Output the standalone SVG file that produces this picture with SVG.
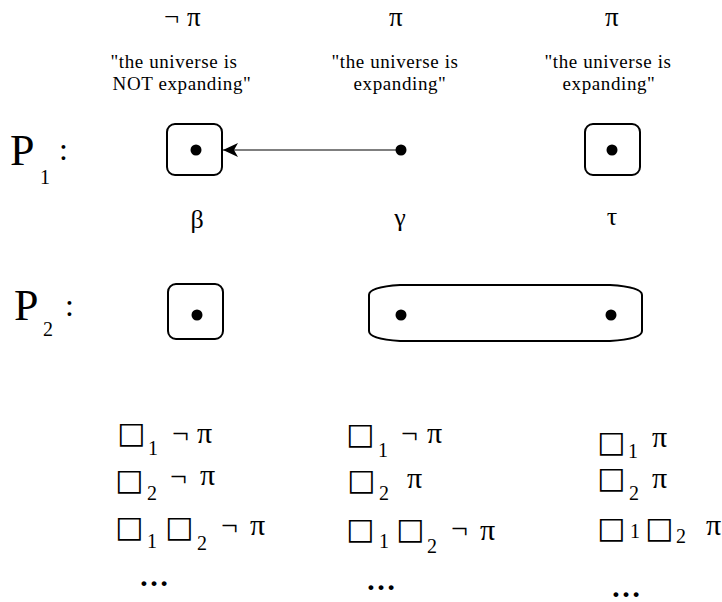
<svg xmlns="http://www.w3.org/2000/svg" width="722" height="602" viewBox="0 0 722 602">
<style>
.t{font-family:"Liberation Serif","DejaVu Serif",serif;fill:#000}
.q{font-size:19px;text-anchor:middle;letter-spacing:0.6px}
.g{font-size:30px}
.h{font-size:27px}
.w{font-size:26px;text-anchor:middle}
.box{fill:none;stroke:#000;stroke-width:2}
.dot{fill:#000}
.sq{font-family:"DejaVu Sans",sans-serif;font-size:30px;fill:#000}
.sub{font-size:20px}
.big{font-size:44px}
.el{font-size:30px;font-weight:bold}
</style>
<defs>
<marker id="ah" markerWidth="16" markerHeight="14" refX="15" refY="7" orient="auto" markerUnits="userSpaceOnUse">
<path d="M15,7 L0,0 L4,7 L0,14 Z" fill="#000"/>
</marker>
</defs>
<rect width="722" height="602" fill="#fff"/>
<g id="header">
<text class="t h" x="164" y="26">¬</text><text class="t h" x="187" y="26">π</text>
<text class="t h" x="389" y="26">π</text>
<text class="t h" x="605" y="26">π</text>
<text class="t q" x="174" y="68">"the universe is</text>
<text class="t q" x="182" y="90">NOT expanding"</text>
<text class="t q" x="395" y="68">"the universe is</text>
<text class="t q" x="400" y="90">expanding"</text>
<text class="t q" x="608" y="68">"the universe is</text>
<text class="t q" x="609" y="90">expanding"</text>
</g>
<g id="labelP1">
<text class="t big" x="10" y="165">P</text>
<text class="t sub" x="40" y="184">1</text>
<text class="t" x="59" y="160" font-size="32">:</text>
</g>
<g id="labelP2">
<text class="t big" x="14" y="320">P</text>
<text class="t sub" x="43" y="336">2</text>
<text class="t" x="65" y="316" font-size="32">:</text>
</g>
<g id="p1-beta">
<rect class="box" x="167" y="124" width="55" height="51" rx="8"/>
<circle class="dot" cx="196" cy="150" r="5.5"/>
</g>
<g id="p1-gamma">
<circle class="dot" cx="401" cy="150" r="5.5"/>
</g>
<g id="p1-tau">
<rect class="box" x="585" y="124" width="55" height="51" rx="8"/>
<circle class="dot" cx="612" cy="150" r="5.5"/>
</g>
<g id="connectors">
<line x1="398" y1="150" x2="223" y2="150" stroke="#000" stroke-width="1.2" marker-end="url(#ah)"/>
</g>
<g id="worldlabels">
<text class="t w" x="197" y="228">β</text>
<text class="t w" x="400" y="226">γ</text>
<text class="t w" x="612" y="225">τ</text>
</g>
<g id="p2-beta">
<rect class="box" x="168" y="284" width="55" height="55" rx="8"/>
<circle class="dot" cx="197" cy="315" r="5.5"/>
</g>
<g id="p2-gamma-tau">
<path class="box" d="M400,285 L610,285 Q642,287 642,295 L642,331 Q642,339 610,341 L400,341 Q369,339 369,331 L369,295 Q369,287 400,285 Z"/>
<circle class="dot" cx="401" cy="315" r="5.5"/>
<circle class="dot" cx="611" cy="315" r="5.5"/>
</g>
<g id="col-beta">
<text class="sq" x="117" y="443">□</text><text class="t sub" x="148" y="455">1</text><text class="t g" x="172" y="443">¬</text><text class="t g" x="197" y="443">π</text>
<text class="sq" x="115" y="490">□</text><text class="t sub" x="147" y="500">2</text><text class="t g" x="170" y="486">¬</text><text class="t g" x="200" y="485">π</text>
<text class="sq" x="115" y="537">□</text><text class="t sub" x="147" y="548">1</text><text class="sq" x="165" y="537">□</text><text class="t sub" x="197" y="550">2</text><text class="t g" x="221" y="535">¬</text><text class="t g" x="250" y="535">π</text>
<text class="t el" x="139" y="586">…</text>
</g>
<g id="col-gamma">
<text class="sq" x="346" y="444">□</text><text class="t sub" x="378" y="457">1</text><text class="t g" x="401" y="443">¬</text><text class="t g" x="427" y="443">π</text>
<text class="sq" x="347" y="490">□</text><text class="t sub" x="379" y="500">2</text><text class="t g" x="407" y="488">π</text>
<text class="sq" x="346" y="539">□</text><text class="t sub" x="379" y="548">1</text><text class="sq" x="396" y="539">□</text><text class="t sub" x="427" y="553">2</text><text class="t g" x="451" y="538">¬</text><text class="t g" x="480" y="540">π</text>
<text class="t el" x="366" y="590">…</text>
</g>
<g id="col-tau">
<text class="sq" x="597" y="452">□</text><text class="t sub" x="628" y="458">1</text><text class="t g" x="652" y="447">π</text>
<text class="sq" x="597" y="488">□</text><text class="t sub" x="629" y="500">2</text><text class="t g" x="652" y="488">π</text>
<text class="sq" x="597" y="538">□</text><text class="t sub" x="630" y="538">1</text><text class="sq" x="645" y="538">□</text><text class="t sub" x="676" y="543">2</text><text class="t g" x="706" y="535">π</text>
<text class="t el" x="611" y="597">…</text>
</g>
</svg>
